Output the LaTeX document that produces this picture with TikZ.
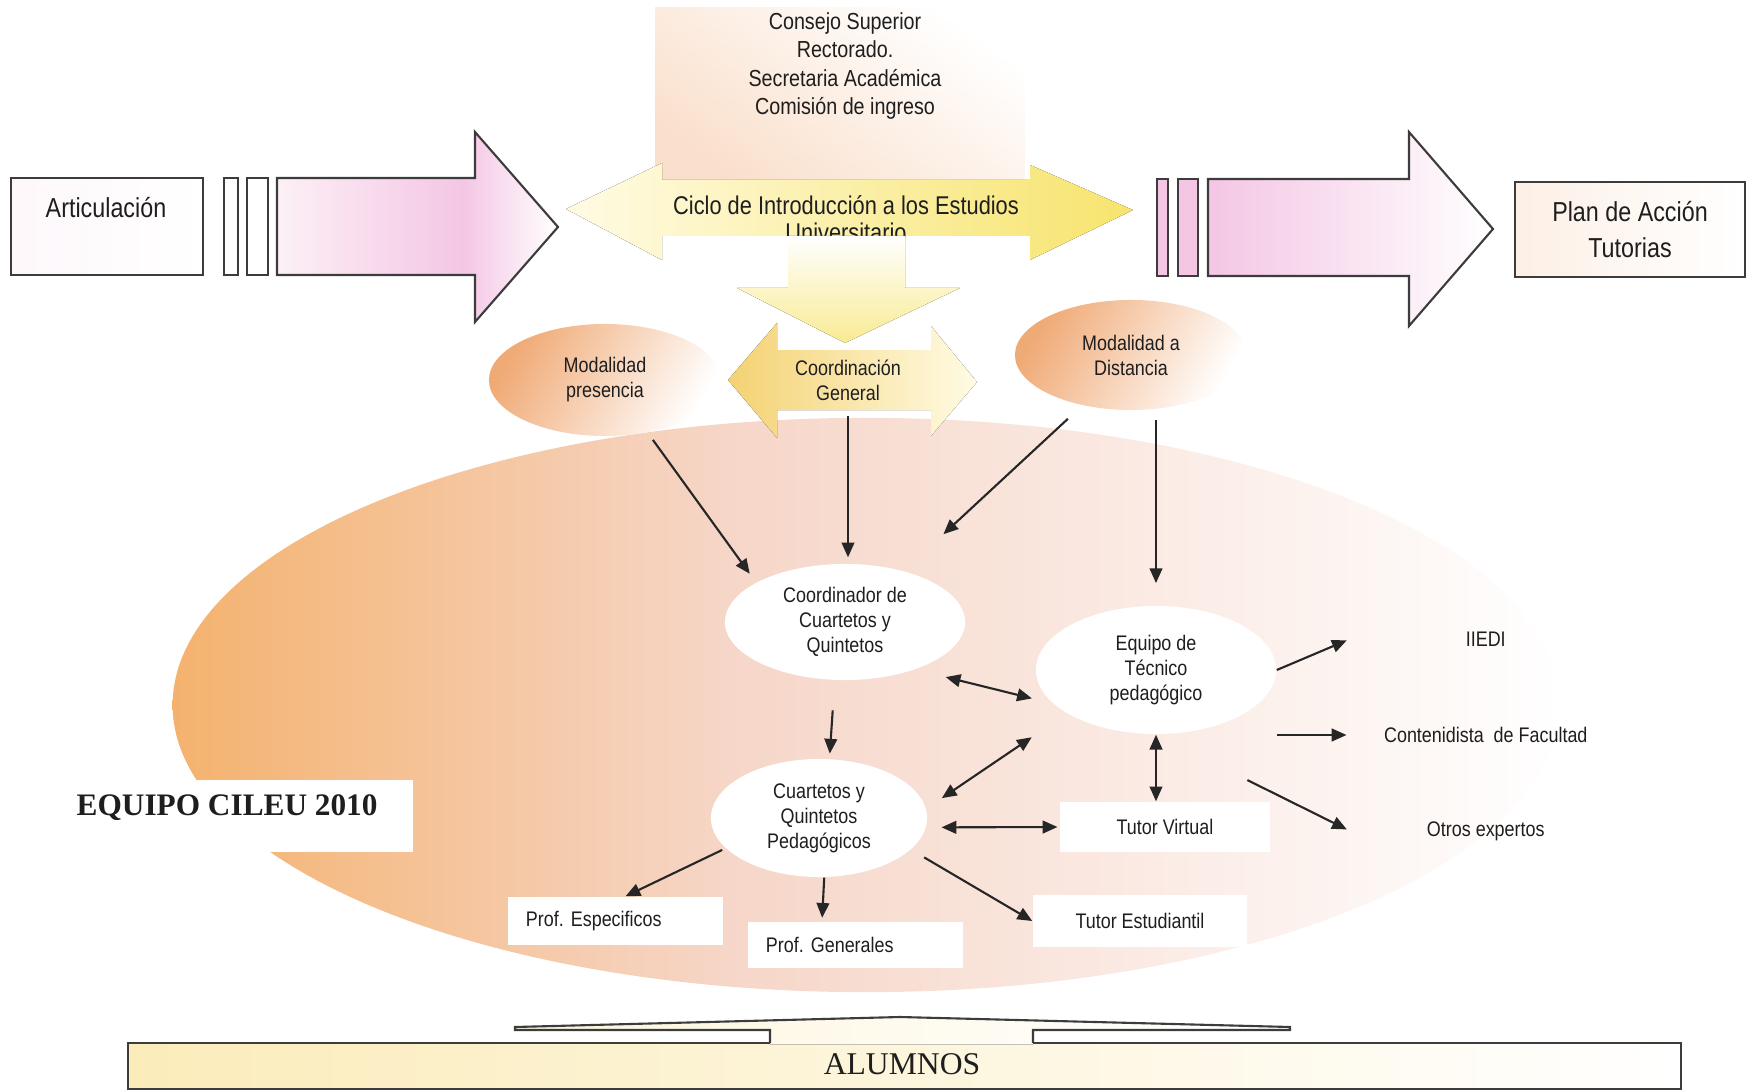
\documentclass[tikz,border=0pt]{standalone}
\usepackage{fontspec}
\setmainfont{Liberation Serif}
\newfontfamily\narrowsf{Liberation Sans}[FakeStretch=0.85]
\usetikzlibrary{arrows.meta,shapes.geometric,calc}

\definecolor{boxline}{RGB}{60,60,60}
\definecolor{txtgray}{RGB}{30,30,30}
\definecolor{arrpink}{RGB}{244,198,228}
\definecolor{palepink}{RGB}{252,240,246}
\definecolor{peach}{RGB}{250,224,204}
\definecolor{cicloyel}{RGB}{247,228,110}
\definecolor{paleyel}{RGB}{255,251,228}
\definecolor{coordyel}{RGB}{244,210,115}
\definecolor{modorange}{RGB}{240,170,118}
\definecolor{ellorange}{RGB}{244,178,110}
\definecolor{ellpink}{RGB}{246,214,200}
\definecolor{alumyel}{RGB}{251,236,186}

% orange -> pink -> white over the oval
\pgfdeclarehorizontalshading{teamshade}{100bp}{color(0bp)=(ellorange); color(25bp)=(ellorange); color(45bp)=(ellpink); color(75bp)=(white); color(100bp)=(white)}
% pink strongest at the head of the first arrow
\pgfdeclarehorizontalshading{firstshade}{100bp}{color(0bp)=(palepink); color(25bp)=(palepink); color(58bp)=(arrpink); color(75bp)=(white); color(100bp)=(white)}

\tikzset{
  boxframe/.style={draw=boxline,line width=0.6pt},
  bigtext/.style={font=\narrowsf\fontsize{7.8}{10}\selectfont,text=txtgray,align=center},
  headtext/.style={font=\narrowsf\fontsize{6.6}{8}\selectfont,text=txtgray,align=center},
  ciclotext/.style={font=\narrowsf\fontsize{7.3}{7.7}\selectfont,text=txtgray,align=center},
  smalltext/.style={font=\narrowsf\fontsize{6}{7.1}\selectfont,text=txtgray,align=center},
  modoval/.style={ellipse,inner sep=0pt,minimum width=2.32cm,left color=modorange,right color=white,shading angle=60,smalltext},
  whiteoval/.style={ellipse,fill=white,inner sep=0pt,smalltext},
  whitebox/.style={fill=white,inner sep=0pt,smalltext},
  sidebox/.style={anchor=west,minimum width=2.7cm,inner sep=0pt,smalltext},
  arr/.style={-{Triangle[length=4.2pt,width=3.6pt]},line width=0.6pt,draw=black!85},
  dblarr/.style={{Triangle[length=4.2pt,width=3.6pt]}-{Triangle[length=4.2pt,width=3.6pt]},line width=0.6pt,draw=black!85},
}

\begin{document}
\begin{tikzpicture}[x=0.01cm,y=-0.01cm]
\useasboundingbox (0,0) rectangle (1751,1091);

% big oval behind the team
\shade[shading=teamshade] (866,705) ellipse [x radius=6.93cm,y radius=2.87cm];
\fill[white] (67,780) rectangle (413,852);
\node[anchor=west,inner sep=0pt,text=txtgray,font=\bfseries\fontsize{8.9}{10}\selectfont] (cileu) at (76,808) {EQUIPO CILEU 2010};

% top block
\fill[left color=peach,right color=white,shading angle=145] (655,8) rectangle (1025,182);
\node[headtext] (consejo) at (845,66) {Consejo Superior\\Rectorado.\\Secretaria Académica\\Comisión de ingreso};

% ciclo arrow
\fill[left color=paleyel,right color=cicloyel] (566,209) -- (662,163) -- (662,180) -- (1030,180) -- (1030,165) -- (1133,210) -- (1030,260) -- (1030,236) -- (662,236) -- (662,260) -- cycle;
\node[ciclotext] (ciclo) at (846,219) {Ciclo de Introducción a los Estudios\\Universitario};
\fill[white] (673,236) rectangle (788,262);
\fill[top color=white,bottom color=cicloyel!75] (788,236) -- (905,236) -- (905,288) -- (960,288) -- (845,343) -- (737,288) -- (788,288) -- cycle;

% coordinacion arrow
\fill[left color=coordyel,right color=paleyel] (728,380) -- (777,323) -- (777,350) -- (931,350) -- (931,326) -- (977,382) -- (931,436) -- (931,410) -- (777,410) -- (777,438) -- cycle;
\node[smalltext,minimum height=0.7cm] (cg) at (848,380) {Coordinación\\General};

% left side
\node[boxframe,left color=palepink!50,right color=white,minimum width=1.92cm,minimum height=0.97cm,inner sep=0pt] (artic) at (107,226.5) {};
\node[bigtext] (artictxt) at (106,208) {Articulación};
\draw[boxframe,fill=white] (224,178) rectangle (238,275);
\draw[boxframe,fill=white] (247,178) rectangle (268,275);
\draw[boxframe,shading=firstshade] (277,178) -- (475,178) -- (475,132) -- (558,227) -- (475,322) -- (475,275) -- (277,275) -- cycle;

% right side
\draw[boxframe,fill=arrpink] (1157,179) rectangle (1168,276);
\draw[boxframe,fill=arrpink] (1178,179) rectangle (1198,276);
\draw[boxframe,left color=arrpink,right color=white] (1208,179) -- (1409,179) -- (1409,132) -- (1493,229) -- (1409,326) -- (1409,276) -- (1208,276) -- cycle;
\node[boxframe,bigtext,left color=peach!50,right color=white,minimum width=2.3cm,minimum height=0.95cm,inner sep=0pt] (plan) at (1630,229.5) {Plan de Acción\\Tutorias};

% modalidades
\node[modoval,minimum height=1.12cm] (pres) at (605,380) {Modalidad\\presencia};
\node[modoval,minimum height=1.1cm] (dist) at (1131,355) {Modalidad a\\Distancia};

% team
\node[whiteoval,minimum width=2.4cm,minimum height=1.16cm] (coord) at (845,622) {Coordinador de\\Cuartetos y\\Quintetos};
\node[whiteoval,minimum width=2.4cm,minimum height=1.28cm] (eq) at (1156,670) {Equipo de\\Técnico\\pedagógico};
\node[whiteoval,minimum width=2.16cm,minimum height=1.18cm] (cq) at (819,818) {Cuartetos y\\Quintetos\\Pedagógicos};
\node[whitebox,minimum width=2.1cm,minimum height=0.5cm] (tv) at (1165,827) {Tutor Virtual};
\node[whitebox,minimum width=2.14cm,minimum height=0.52cm] (te) at (1140,921) {Tutor Estudiantil};
\node[whitebox,text width=1.79cm,inner xsep=0.18cm,minimum height=0.48cm,align=left] (pe) at (615.5,921) {Prof.\ Especificos};
\node[whitebox,text width=1.79cm,inner xsep=0.18cm,minimum height=0.46cm,align=left] (pg) at (855.5,945) {Prof.\ Generales};
\node[sidebox] (iiedi) at (1350,639) {IIEDI};
\node[sidebox] (cont) at (1350,735) {Contenidista\ \ de Facultad};
\node[sidebox] (otros) at (1350,831) {Otros expertos};

\draw[arr,shorten <=2.5pt,shorten >=3pt] (pres.-51) -- (coord.156);
\draw[arr,shorten >=1.7pt] (cg.south) -- (cg.south |- coord.north);
\draw[arr,shorten <=5.5pt,shorten >=15.3pt] (dist.226) -- (coord.41);
\draw[arr,shorten <=2.6pt,shorten >=6.3pt] (dist.south -| eq.north) -- (eq.north);
\draw[arr,shorten <=8.5pt,shorten >=1.4pt] (coord.-100) -- (cq.80);
\draw[dblarr,shorten <=8.8pt,shorten >=6.1pt] (coord.-34) -- (eq.198);
\draw[dblarr,shorten <=5.3pt,shorten >=12pt] (cq.5.7) -- (eq.206.6);
\draw[dblarr,shorten <=4.3pt,shorten >=0.5pt] (cq.-5) -- (tv.west);
\draw[dblarr] (eq.south) -- (eq.south |- tv.north);
\draw[arr,shorten >=1pt] (eq.east) -- (iiedi.west);
\draw[arr,shorten >=1pt] (eq.east |- cont.west) -- (cont.west);
\draw[arr,shorten <=29pt,shorten >=1pt] (eq.south) -- (otros.west);
\draw[arr,shorten <=1pt] (cq.198.6) -- ([xshift=0.1cm]pe.north);
\draw[arr,shorten >=1pt] (cq.-85) -- ([xshift=-0.335cm]pg.north);
\draw[arr,shorten <=4.3pt] (cq.-19.4) -- (te.west);

% alumnos
\draw[boxframe,left color=alumyel,right color=white] (128,1043) rectangle (1681,1089);
\fill[left color=alumyel!50,right color=white] (770,1044.5) -- (770,1030) -- (515,1030) -- (515,1027) -- (900,1017) -- (1290,1027) -- (1290,1030) -- (1033,1030) -- (1033,1044.5) -- cycle;
\draw[boxframe] (770,1043) -- (770,1030) -- (515,1030) -- (515,1027) -- (900,1017) -- (1290,1027) -- (1290,1030) -- (1033,1030) -- (1033,1043);
\node[text=txtgray,font=\fontsize{9}{10}\selectfont] (alum) at (902,1064) {ALUMNOS};
\end{tikzpicture}
\end{document}
